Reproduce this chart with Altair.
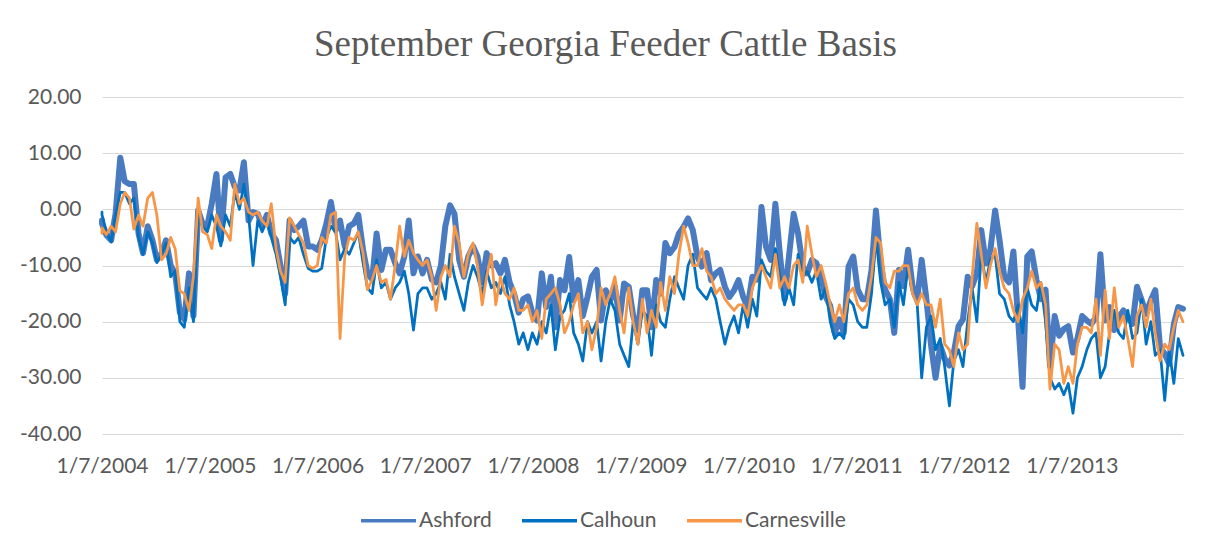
import altair as alt
import pandas as pd

# ---- values (24 readings per year, 22 in 2013) ----
series_names = ["Ashford", "Calhoun", "Carnesville"]
series_colors = ["#4A7BC0", "#0070C0", "#F79646"]
year_labels = [2004, 2005, 2006, 2007, 2008, 2009, 2010, 2011, 2012, 2013]
y_ticks = [-40, -30, -20, -10, 0, 10, 20]

ashford = [
    -2, -2.5, -4.6, -5.5, -0.8, 9.2, 5, 4.5, 4.5, -4.3, -7.8, -3, -5.5, -9, -7.8, -5.5, -10, -11.4, -18.4, -19.6, -11.4, -19, -0.2, -2.5,
    -3, 1, 6.3, -5.5, 5.7, 6.3, 4, 3.4, 8.4, -2, -0.5, -0.8, -3, -1, -4.3, -5.5, -10, -15, -2, -3.7, -3, -2, -6.6, -6.6,
    -7.2, -5.5, -2.5, 1.3, -3.7, -2, -6.6, -3, -2.5, -1, -7.2, -11.4, -12.5, -4.3, -10.8, -7.2, -7.2, -9.6, -11.4, -8.4, -2, -11.4, -8.4, -11.4,
    -9, -12.5, -13, -10, -3, 0.7, -0.8, -9, -12, -8.4, -6.6, -8.4, -13, -7.8, -10, -9.6, -11.4, -9, -13, -15, -18.4, -16, -15.5, -18.4,
    -19.8, -11.4, -17.4, -12, -21, -12.6, -14.4, -8.5, -16.2, -12.6, -19, -15.6, -12, -10.8, -19.8, -14.4, -16.2, -13.8, -19.8, -13.2, -13.8, -19, -21.5, -14.4,
    -14.4, -21, -12.6, -15, -6, -7.8, -6.7, -4.3, -3.1, -1.6, -3.7, -8.5, -10.2, -7.8, -12.6, -11.4, -10.8, -13.8, -15.6, -14.4, -12.6, -15.6, -17.4, -12,
    -12.5, 0.4, -6.6, -9, 1, -7.8, -16, -8.4, -0.8, -4.3, -10.2, -11.4, -9, -9.6, -12, -15.5, -17.2, -22, -19.6, -22, -10.2, -8.4, -14.3, -16,
    -16, -10.8, -0.2, -9.6, -14.3, -16, -22, -10.8, -13.7, -7.2, -13.7, -16, -9, -16, -24.3, -30, -24.3, -26.6, -27.8, -25.5, -20.8, -19.6, -12, -13.7,
    -11.4, -3.7, -9.6, -7.2, -0.2, -5.5, -12, -13, -7.5, -19.6, -31.6, -8.4, -7.5, -12.5, -16, -14.3, -27.8, -19, -22.5, -21.3, -20.8, -25.5, -23, -19,
    -19.8, -20.4, -19.2, -8, -19.8, -17.4, -21.5, -19.2, -18, -19.2, -20.4, -13.8, -16.2, -18.6, -16.2, -14.4, -24.5, -25.7, -27.5, -20.4, -17.4, -17.7,
]

calhoun = [
    -0.5, -1, -4, -5.8, -1, 3, 3, 1, 2, -5, -8, -4, -6, -9.5, -8, -6, -12, -11, -20, -21, -14, -20, 0, -3,
    -4, -1, -3, -6.5, -1, -3, 3, 0, 4.5, -1, -10, -2, -4, -2, -5, -8, -12, -17, -5, -6, -5, -8, -10.5, -11,
    -11, -10.5, -5, -3, -4, -9, -7, -8, -6, -4, -9.5, -14, -15, -9, -14, -13, -16, -14, -13, -11, -15, -21.5, -15, -14,
    -14, -16, -15, -13, -16, -8, -12, -15, -18, -13, -10, -12, -15, -11, -14, -13, -15, -12, -17, -20, -24, -22, -25, -22,
    -24, -20, -22, -17, -25, -19, -18, -15, -22, -24, -27, -20, -22, -20, -27, -20, -16, -18, -24, -26, -28, -20, -24, -18,
    -19, -26, -17, -20, -21, -16, -12, -14, -16, -10, -8, -14, -15, -16, -14, -16, -20, -24, -21, -19, -22, -17, -21, -16,
    -19, -9, -11, -12, -7, -12, -17, -14, -17, -8, -12, -11, -13, -11, -16, -14, -20, -23, -22, -23, -16, -17, -20, -21,
    -21, -15, -5, -13, -17, -16, -21, -13, -17, -10, -15, -17, -30, -21, -19, -25, -23, -28, -35, -27, -25, -28, -20, -14,
    -20, -8, -13, -9, -8, -15, -16, -19, -20, -17, -22, -14, -17, -18, -13, -20, -30, -32, -31, -33, -31, -36.3, -30, -28,
    -25, -23, -22, -30, -28, -22, -18, -22, -23, -18, -23, -22, -16, -24, -20, -26, -25, -34, -25, -31, -23, -26,
]

carnesville = [
    -4.3, -3.3, -4.5, -3, -4, 1, 3, 2, -3.5, -1, -3, 2, 3, -1, -9, -8, -5, -7, -14.5, -15, -18, -12, 2, -4,
    -4.5, -7, -1, -3, -4, -5.5, 4.5, 1, 2, -0.5, -1, -0.5, -2, -3, 1, -7, -11, -13, -1.5, -3, -4.5, -6, -10, -10.5,
    -10, -5, -6, -1, -0.5, -23, -8.4, -5, -5.5, -4, -7.8, -14.3, -12.5, -10, -13, -12.5, -16, -10, -3, -8.4, -5.5, -7.8, -9, -10,
    -9, -12, -18, -12, -10, -12, -3, -6, -12, -8, -6, -10, -17, -12, -8, -17, -12, -15, -16, -14, -18, -18, -17, -20,
    -18, -23, -16, -15, -14, -17, -22, -20, -17, -15, -22, -20, -25, -21, -14, -17, -15, -12, -18, -22, -14, -20, -24, -16,
    -22, -18, -21, -13, -18, -12, -15, -8, -3, -6, -10, -10, -7, -11, -12, -15, -14, -16, -17, -18, -17, -17, -19, -14,
    -12, -10, -12, -14, -8, -14, -12, -14, -10, -9, -13, -3, -8, -12, -10, -13, -17, -20, -17, -20, -15, -14, -17, -18,
    -17, -12, -5, -6, -13, -14, -11, -11, -10, -10, -15, -17, -15, -17, -17, -21, -16, -24, -25, -28, -22, -25, -24, -12,
    -2.5, -8, -14, -10, -7, -11, -14, -15, -18, -20, -16, -14, -11, -14, -13, -17, -32, -24, -25, -31, -28, -31, -24, -21,
    -21, -22, -16, -26, -14.4, -23, -14, -21, -19, -23, -28, -19, -17, -21, -16, -22, -27, -24, -25, -21, -18, -20,
]

# ---- approximate sample dates (readings ~half a month apart, from 1/7/2004) ----
START = pd.Timestamp("2004-01-07")


def sample_dates(n):
    out = []
    for i in range(n):
        yi, k = divmod(i, 24)
        years_from_start = max(0.0, (110 * yi + (7 + 13.75 * k) / 3 - 7) / 107.8)
        out.append(START + pd.Timedelta(days=round(years_from_start * 365.25)))
    return out


dates = sample_dates(len(ashford))

frames = []
for name, vals in zip(series_names, [ashford, calhoun, carnesville]):
    frames.append(pd.DataFrame({"date": dates, "value": vals, "series": name}))

x_values = [alt.DateTime(year=y, month=1, date=7) for y in year_labels]

color_scale = alt.Scale(domain=series_names, range=series_colors)

FONT = "Lato"
GREY = "#595959"

x_enc = alt.X(
    "date:T",
    scale=alt.Scale(domain=[START.isoformat(), dates[-1].isoformat()], nice=False),
    axis=alt.Axis(
        values=x_values,
        labelExpr="timeFormat(datum.value, '%-m/%-d/%Y')",
        title=None,
        grid=False,
        domain=False,
        ticks=False,
        labelFlush=False,
        labelOverlap=False,
        labelPadding=21,
        labelAlign="center",
        labelFont=FONT,
        labelFontSize=21,
        labelColor=GREY,
    ),
)
y_enc = alt.Y(
    "value:Q",
    scale=alt.Scale(domain=[-40, 20], nice=False),
    axis=alt.Axis(
        values=y_ticks,
        labelExpr="replace(format(datum.value, '.2f'), '\u2212', '-')",
        title=None,
        domain=False,
        ticks=False,
        labelPadding=21,
        gridColor="#D9D9D9",
        gridWidth=1,
        labelFont=FONT,
        labelFontSize=21,
        labelColor=GREY,
    ),
)

legend = alt.Legend(
    title=None,
    orient="none",
    legendX=257,
    legendY=394,
    direction="horizontal",
    symbolType="stroke",
    symbolSize=3025,
    symbolStrokeWidth=3.5,
    labelFont=FONT,
    labelFontSize=21,
    labelColor=GREY,
    labelOffset=1,
    columnPadding=23,
    padding=0,
)

widths = [6, 2.75, 2.75]
layers = []
for df, w in zip(frames, widths):
    layers.append(
        alt.Chart(df)
        .mark_line(strokeWidth=w, strokeJoin="round", strokeCap="round")
        .encode(
            x=x_enc,
            y=y_enc,
            color=alt.Color("series:N", scale=color_scale, legend=legend),
        )
    )

chart = (
    alt.layer(*layers)
    .properties(
        width=1081,
        height=337,
        background="white",
        autosize=alt.AutoSizeParams(type="none"),
        padding={"left": 94, "top": 89, "right": 20, "bottom": 116},
        title=alt.Title(
            "September Georgia Feeder Cattle Basis",
            font="Liberation Serif",
            fontSize=37,
            fontWeight="normal",
            color=GREY,
            anchor="middle",
            dx=-37,
            offset=22,
        ),
    )
    .configure_view(stroke=None)
)

chart.save("out.html", embed_options={"renderer": "svg", "actions": False})
